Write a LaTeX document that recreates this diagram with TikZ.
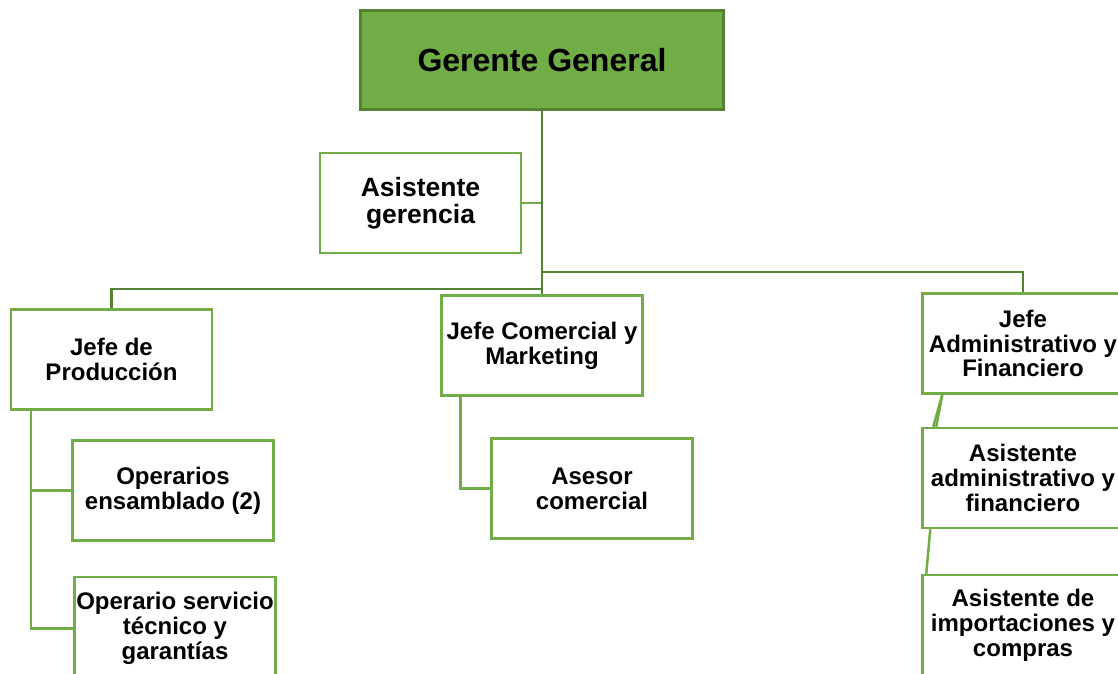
\documentclass[tikz,border=0pt]{standalone}
\usepackage{fontspec}
\setmainfont{Liberation Sans}
\definecolor{boxgreen}{HTML}{70AD47}
\definecolor{darkgreen}{HTML}{548235}
\tikzset{
  unit/.style={draw=boxgreen, line width=2.5pt, fill=white, minimum width=201pt,
    minimum height=100pt, align=center, inner sep=0pt,
    font=\fontsize{24}{24.8}\selectfont\bfseries},
  head/.style={draw=darkgreen, line width=2.8pt, fill=boxgreen, minimum width=363pt,
    minimum height=99pt, inner sep=0pt, font=\fontsize{32}{34}\selectfont\bfseries},
  link/.style={draw=boxgreen, line width=2.5pt},
  trunk/.style={draw=darkgreen, line width=2.8pt}
}
\begin{document}
\begin{tikzpicture}[x=1pt,y=-1pt]
\useasboundingbox (0,0) rectangle (1118,673);
\clip (0,0) rectangle (1118,673);
\fill[white] (0,0) rectangle (1118,673);

% junction points of the two horizontal buses
\coordinate (busL) at (542,289);
\coordinate (busR) at (542,272);

% boxes
\node[head] (gg) at (542,60) {Gerente General};
\node[unit, font=\fontsize{26.5}{27.5}\selectfont\bfseries] (ag) at (420.5,203) {Asistente\\gerencia};
\node[unit] (jp) at (111.5,359.5) {Jefe de\\Producción};
\node[unit] (jc) at (542,345.5) {Jefe Comercial y\\Marketing};
\node[unit] (ja) at (1023,343.5) {Jefe\\Administrativo y\\Financiero};
\node[unit] (oe) at (173,490.5) {Operarios\\ensamblado (2)};
\node[unit, minimum height=103pt] (os) at (175,628.5) {Operario servicio\\técnico y\\garantías};
\node[unit] (acs) at (592,488.5) {Asesor\\comercial};
\node[unit] (aa) at (1023,478) {Asistente\\administrativo y\\financiero};
\node[unit] (ai) at (1023,625) {Asistente de\\importaciones y\\compras};

% lines
\draw[link] (ag.east) -- (ag.east -| gg.south);
\draw[trunk] (gg.south) -- (jc.north);
\draw[trunk] (busL) -| (jp.north);
\draw[trunk] (busR) -| (ja.north);
\draw[link] ([xshift=21pt]jp.south west) |- (oe.west);
\draw[link] ([xshift=21pt]jp.south west) |- (os.west);
\draw[link] ([xshift=20pt]jc.south west) |- (acs.west);
\draw[link] ([xshift=21pt]ja.south west) -- ([xshift=12pt]aa.north west);
\draw[link] ([xshift=21pt]ja.south west) -- ([xshift=15pt]aa.north west);
\draw[link] ([xshift=9pt]aa.south west) -- ([xshift=5pt]ai.north west);
\end{tikzpicture}
\end{document}
